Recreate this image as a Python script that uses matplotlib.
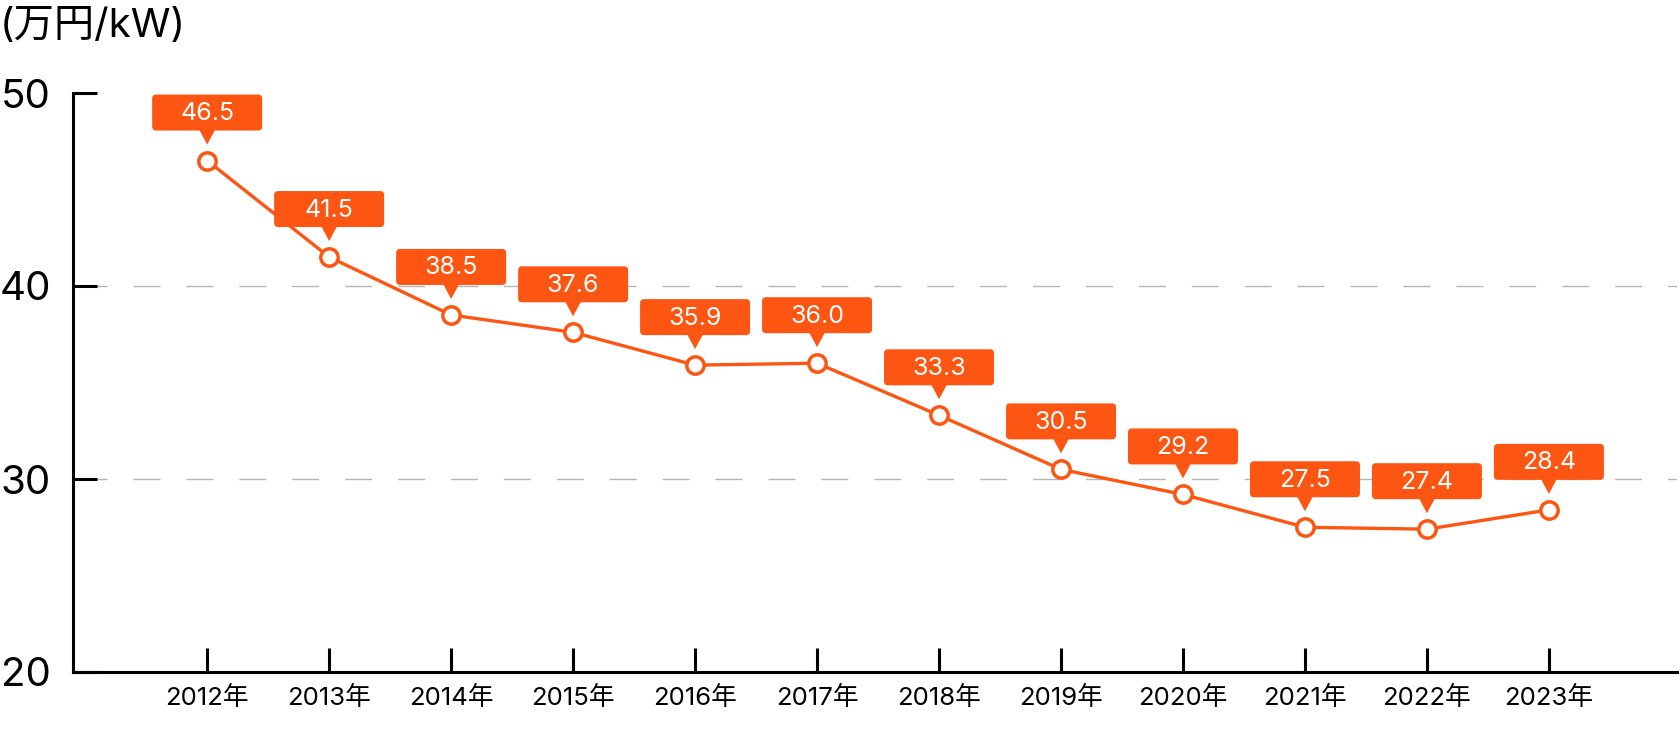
import matplotlib
matplotlib.use('Agg')
import matplotlib.pyplot as plt
import matplotlib.transforms as mtransforms
from matplotlib.patches import FancyBboxPatch, Polygon

years = ['2012年', '2013年', '2014年', '2015年', '2016年', '2017年',
         '2018年', '2019年', '2020年', '2021年', '2022年', '2023年']
cost = [46.5, 41.5, 38.5, 37.6, 35.9, 36.0, 33.3, 30.5, 29.2, 27.5, 27.4, 28.4]
y_ticks = [20, 30, 40, 50]

ORANGE = '#fd5512'

plt.rcParams['font.family'] = ['Inter', 'Noto Sans CJK JP', 'DejaVu Sans']

fig = plt.figure(figsize=(16.8, 7.3), dpi=100)
ax = fig.add_axes([73 / 1680, 1 - 672 / 730, 1604 / 1680, (672 - 93) / 730])

x = list(range(len(years)))
ax.plot(x, cost, color=ORANGE, lw=2.4, marker='o', ms=12.5, mfc='white',
        mec=ORANGE, mew=2.5, zorder=3, clip_on=False)

# callout boxes above each point, sized in pixels
for xi, v in zip(x, cost):
    trans = mtransforms.IdentityTransform() + mtransforms.ScaledTranslation(xi, v, ax.transData)
    box = FancyBboxPatch((-55, 30), 110, 36, boxstyle='round,pad=0,rounding_size=4',
                         fc=ORANGE, ec='none', transform=trans, zorder=4, clip_on=False)
    tri = Polygon([(-8, 31), (8, 31), (0, 16)], closed=True, fc=ORANGE, ec='none',
                  transform=trans, zorder=4, clip_on=False)
    ax.add_patch(box)
    ax.add_patch(tri)
    ax.text(0, 47, f'{v:.1f}', transform=trans, ha='center', va='center',
            color='white', fontsize=18, zorder=5)

ax.set_xlim(-1.1, 12.05)
ax.set_ylim(20, 50)
ax.set_xticks(x)
ax.set_xticklabels(years, fontsize=18.5)
ax.set_yticks(y_ticks)
ax.set_yticklabels([str(t) for t in y_ticks], fontsize=29)

for side in ['top', 'right']:
    ax.spines[side].set_visible(False)
for side in ['left', 'bottom']:
    ax.spines[side].set_linewidth(2.2)
    ax.spines[side].set_color('black')

ax.tick_params(axis='both', direction='in', length=17, width=2.2, color='black')
ax.tick_params(axis='x', pad=10)
ax.tick_params(axis='y', pad=16)

for g in [30, 40]:
    ax.axhline(g, color='#b5b5b5', lw=1, linestyle=(33, (19.4, 18.7)), zorder=1)

fig.text(0.0, 1 - 27 / 730, '(万円/kW)', fontsize=29, ha='left', va='center')

fig.savefig('out.png', dpi=100)
plt.close(fig)
